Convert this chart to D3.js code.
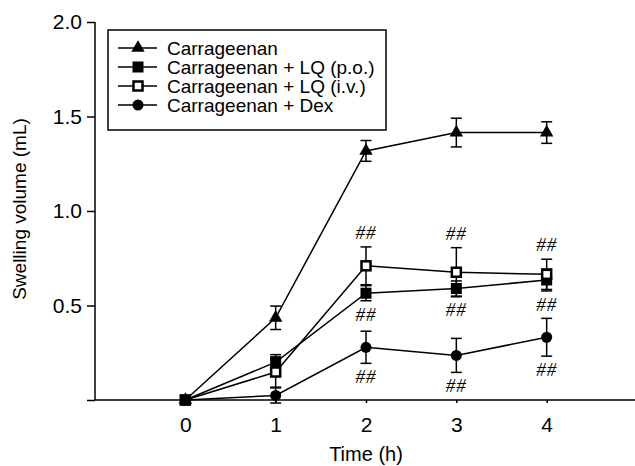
<!DOCTYPE html>
<html>
<head>
<meta charset="utf-8">
<script src="https://cdn.jsdelivr.net/npm/d3@7"></script>
<style>
  body { margin: 0; background: #fff; }
  svg { display: block; font-family: "Liberation Sans", Arial, sans-serif; }
</style>
</head>
<body>
<svg id="chart" width="635" height="466"></svg>
<script>
// time points (h)
const times = [0, 1, 2, 3, 4]

// mean swelling volume (mL) per group
const carrageenan = [0, 0.435, 1.318, 1.415, 1.415]
const lqOral = [0, 0.2, 0.565, 0.59, 0.635]
const lqIv = [0, 0.148, 0.71, 0.676, 0.665]
const dex = [0, 0.024, 0.279, 0.236, 0.332]

// error bars (mL)
const carrageenanErr = [0, 0.062, 0.055, 0.076, 0.057]
const lqOralErr = [0, 0.04, 0.04, 0.04, 0.058]
const lqIvErr = [0, 0.08, 0.1, 0.13, 0.08]
const dexErr = [0, 0.04, 0.085, 0.09, 0.1]

const seriesNames = ["Carrageenan", "Carrageenan + LQ (p.o.)", "Carrageenan + LQ (i.v.)", "Carrageenan + Dex"]
const yTicks = [0, 0.5, 1.0, 1.5, 2.0]

// "##" marks: which series, which time, above or below the error bar
const sigMarks = [
    { series: 2, t: 2, side: "above" }, { series: 1, t: 2, side: "below" }, { series: 3, t: 2, side: "below" },
    { series: 2, t: 3, side: "above" }, { series: 1, t: 3, side: "below" }, { series: 3, t: 3, side: "below" },
    { series: 2, t: 4, side: "above" }, { series: 1, t: 4, side: "below" }, { series: 3, t: 4, side: "below" }
]

const series = [
    { name: seriesNames[0], values: carrageenan, err: carrageenanErr, marker: "triangle" },
    { name: seriesNames[1], values: lqOral, err: lqOralErr, marker: "square" },
    { name: seriesNames[2], values: lqIv, err: lqIvErr, marker: "openSquare" },
    { name: seriesNames[3], values: dex, err: dexErr, marker: "circle" }
]

const svg = d3.select("#chart")
const x = d3.scaleLinear().domain([-1, 5]).range([95, 637])
const y = d3.scaleLinear().domain([0, 2]).range([400, 22])

// axes
const yAxis = svg.append("g")
    .attr("transform", "translate(95,0)")
    .call(d3.axisLeft(y).tickValues(yTicks).tickSize(8).tickPadding(5)
        .tickFormat(d => d === 0 ? "" : d3.format(".1f")(d)))
yAxis.select(".domain").attr("d", `M0,${y(2)}V${y(0)}`)
const xAxis = svg.append("g")
    .attr("transform", `translate(0,${y(0)})`)
    .call(d3.axisBottom(x).tickValues(times).tickSize(3).tickPadding(14).tickFormat(d3.format("d")))
xAxis.select(".domain").attr("d", `M${x(-1)},0H${x(5)}`)
svg.selectAll(".tick text").attr("font-size", 21).attr("fill", "#000")
svg.selectAll(".domain, .tick line").attr("stroke", "#000").attr("stroke-width", 1.5)

svg.append("text")
    .attr("x", x(2)).attr("y", 461)
    .attr("text-anchor", "middle").attr("font-size", 20)
    .text("Time (h)")
svg.append("text")
    .attr("transform", "translate(26,209) rotate(-90)")
    .attr("text-anchor", "middle").attr("font-size", 19)
    .text("Swelling volume (mL)")

function drawMarker(g, type) {
    if (type === "triangle")
        g.append("path").attr("d", d3.symbol(d3.symbolTriangle, 78)()).attr("fill", "#000")
    else if (type === "square")
        g.append("rect").attr("x", -5.5).attr("y", -5.5).attr("width", 11).attr("height", 11).attr("fill", "#000")
    else if (type === "openSquare")
        g.append("rect").attr("x", -4.5).attr("y", -4.5).attr("width", 9).attr("height", 9)
            .attr("fill", "#fff").attr("stroke", "#000").attr("stroke-width", 2.5)
    else
        g.append("circle").attr("r", 5.5).attr("fill", "#000")
}

const line = d3.line().x((d, i) => x(times[i])).y(d => y(d))

// lines
series.forEach(s => {
    svg.append("path")
        .attr("d", line(s.values))
        .attr("fill", "none")
        .attr("stroke", "#000")
        .attr("stroke-width", 1.5)
})

// error bars
series.forEach(s => {
    const eb = svg.append("g").selectAll("g")
        .data(s.values.map((v, i) => ({ t: times[i], v, e: s.err[i] })).filter(d => d.e > 0))
        .enter().append("g")
        .attr("stroke", "#000").attr("stroke-width", 1.5)
    eb.append("line")
        .attr("x1", d => x(d.t)).attr("x2", d => x(d.t))
        .attr("y1", d => y(d.v + d.e)).attr("y2", d => y(d.v - d.e))
    eb.append("line")
        .attr("x1", d => x(d.t) - 5.5).attr("x2", d => x(d.t) + 5.5)
        .attr("y1", d => y(d.v + d.e)).attr("y2", d => y(d.v + d.e))
    eb.append("line")
        .attr("x1", d => x(d.t) - 5.5).attr("x2", d => x(d.t) + 5.5)
        .attr("y1", d => y(d.v - d.e)).attr("y2", d => y(d.v - d.e))
})

// markers
series.forEach(s => {
    svg.append("g").selectAll("g")
        .data(s.values)
        .enter().append("g")
        .attr("transform", (d, i) => `translate(${x(times[i])},${y(d)})`)
        .each(function() { drawMarker(d3.select(this), s.marker) })
})

// significance marks
svg.append("g").selectAll("text")
    .data(sigMarks)
    .enter().append("text")
    .attr("x", d => x(d.t))
    .attr("y", d => {
        const s = series[d.series], i = times.indexOf(d.t)
        return d.side === "above" ? y(s.values[i] + s.err[i]) - 8 : y(s.values[i] - s.err[i]) + 20
    })
    .attr("text-anchor", "middle")
    .attr("font-family", "'Liberation Serif', 'Times New Roman', serif")
    .attr("font-style", "italic")
    .attr("font-size", 19)
    .attr("letter-spacing", 1)
    .text("##")

// legend
const legend = svg.append("g")
legend.append("rect")
    .attr("x", 108).attr("y", 30).attr("width", 278).attr("height", 100)
    .attr("fill", "#fff").attr("stroke", "#000").attr("stroke-width", 1.5)
const items = legend.selectAll("g.item")
    .data(series)
    .enter().append("g")
    .attr("class", "item")
    .attr("transform", (d, i) => `translate(0,${48 + i * 19})`)
items.append("line")
    .attr("x1", 118).attr("x2", 157)
    .attr("stroke", "#000").attr("stroke-width", 1.5)
items.append("g")
    .attr("transform", "translate(138,0)")
    .each(function(d) { drawMarker(d3.select(this), d.marker) })
items.append("text")
    .attr("x", 167).attr("dy", "0.35em")
    .attr("font-size", 19)
    .text(d => d.name)
</script>
</body>
</html>
